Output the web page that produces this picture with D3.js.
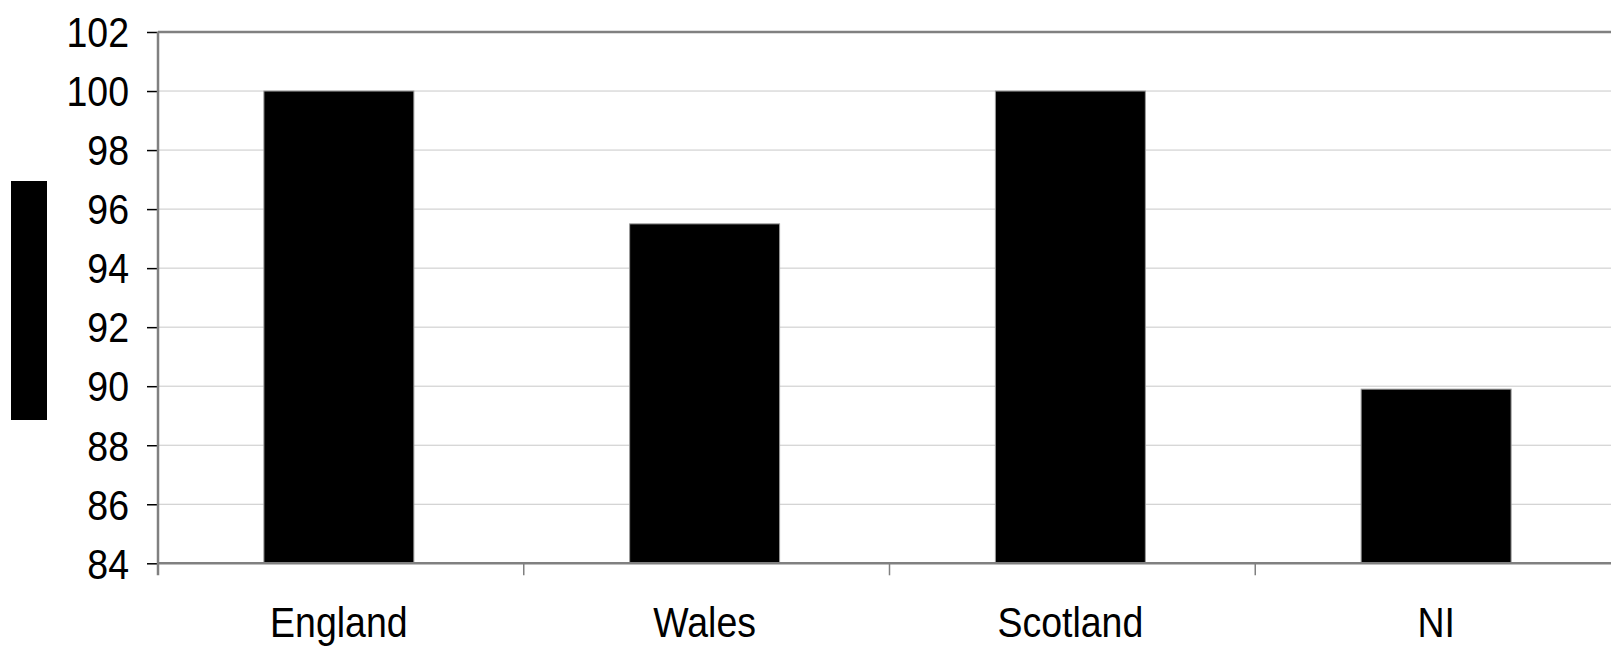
<!DOCTYPE html>
<html>
<head>
<meta charset="utf-8">
<script src="https://cdn.jsdelivr.net/npm/d3@7"></script>
<style>
  html, body { margin: 0; padding: 0; background: #fff; }
  svg { display: block; }
  text { font-family: "Liberation Sans", Arial, sans-serif; fill: #000; }
</style>
</head>
<body>
<svg id="chart" width="1611" height="647"></svg>
<script>
const categories = ["England", "Wales", "Scotland", "NI"];
const values = [100, 95.5, 100, 89.9];
const yTicks = [84, 86, 88, 90, 92, 94, 96, 98, 100, 102];

const svg = d3.select("#chart");
const plotLeft = 158, plotRight = 1621, plotTop = 32, plotBottom = 563.3;

const x = d3.scaleBand().domain(categories).range([plotLeft, plotRight]).padding(0);
const y = d3.scaleLinear().domain([84, 102]).range([plotBottom, plotTop]);

const textScaleY = 1.12;
const fontSize = 37.5;

// gridlines
svg.append("g").selectAll("line")
  .data(yTicks.filter(t => t !== 84 && t !== 102))
  .join("line")
  .attr("x1", plotLeft).attr("x2", plotRight)
  .attr("y1", d => y(d)).attr("y2", d => y(d))
  .attr("stroke", "#c8c8c8").attr("stroke-width", 1);

// top border
svg.append("line")
  .attr("x1", plotLeft).attr("x2", plotRight)
  .attr("y1", y(102)).attr("y2", y(102))
  .attr("stroke", "#808080").attr("stroke-width", 2.5);

// bars
const barW = x.bandwidth() * 0.41;
svg.append("g").selectAll("rect")
  .data(values)
  .join("rect")
  .attr("x", (d, i) => x(categories[i]) + x.bandwidth() / 2 - barW / 2 - 2)
  .attr("width", barW)
  .attr("y", d => y(d))
  .attr("height", d => y(84) - y(d))
  .attr("fill", "#000")
  .attr("stroke", "#9a9a9a")
  .attr("stroke-width", 1);

// y axis
const yAxis = d3.axisLeft(y).tickValues(yTicks).tickSize(11).tickPadding(18).tickFormat(d3.format("d"));
const gy = svg.append("g").attr("transform", `translate(${plotLeft},0)`).call(yAxis);
gy.select(".domain").remove();
gy.selectAll(".tick line").attr("stroke", "#000").attr("stroke-width", 1.5);
gy.selectAll(".tick text")
  .attr("font-size", fontSize)
  .attr("dy", null)
  .attr("y", 0)
  .attr("dominant-baseline", "central")
  .attr("transform", `scale(1,${textScaleY})`);

// y axis line
svg.append("line")
  .attr("x1", plotLeft).attr("x2", plotLeft)
  .attr("y1", y(102)).attr("y2", plotBottom + 12)
  .attr("stroke", "#808080").attr("stroke-width", 2.5);

// x axis
svg.append("line")
  .attr("x1", plotLeft).attr("x2", plotRight)
  .attr("y1", plotBottom).attr("y2", plotBottom)
  .attr("stroke", "#808080").attr("stroke-width", 2.5);

const bounds = categories.map(c => x(c)).slice(1);
svg.append("g").selectAll("line")
  .data(bounds)
  .join("line")
  .attr("x1", d => d).attr("x2", d => d)
  .attr("y1", plotBottom).attr("y2", plotBottom + 12)
  .attr("stroke", "#808080").attr("stroke-width", 1.5);

const xAxis = d3.axisBottom(x).tickSize(0).tickPadding(0);
const gx = svg.append("g").attr("transform", `translate(-2,0)`).call(xAxis);
gx.select(".domain").remove();
gx.selectAll(".tick text")
  .attr("font-size", fontSize)
  .attr("dy", null)
  .attr("y", null)
  .attr("transform", `translate(0,637) scale(1,${textScaleY})`);

// legend swatch (no label)
svg.append("rect")
  .attr("x", 11).attr("y", 181)
  .attr("width", 36).attr("height", 239)
  .attr("fill", "#000");
</script>
</body>
</html>
